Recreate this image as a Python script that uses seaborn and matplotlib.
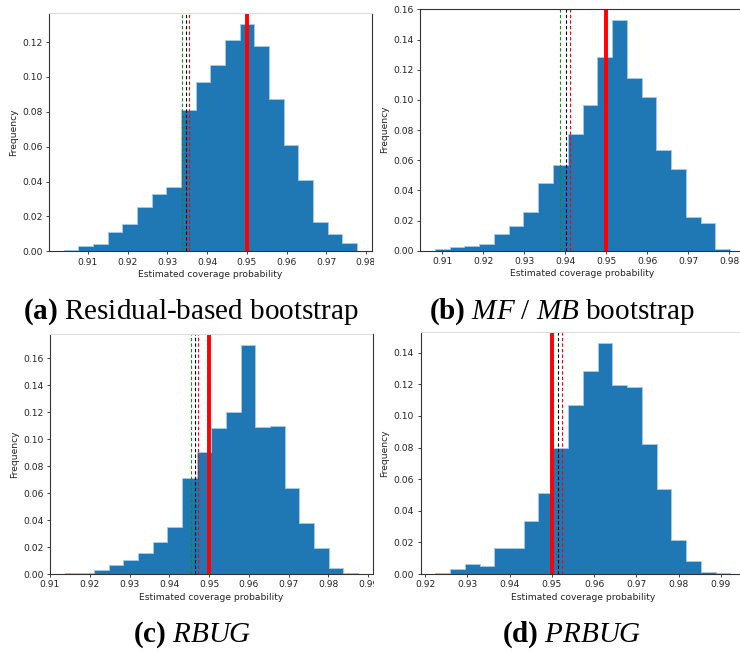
import numpy as np
import pandas as pd
import matplotlib
matplotlib.use("Agg")
import matplotlib.pyplot as plt
import seaborn as sns
from matplotlib.transforms import Bbox, TransformedBbox

sns.set_style("ticks")
plt.rcParams["font.family"] = ["DejaVu Sans"]
plt.rcParams["mathtext.fontset"] = "custom"
plt.rcParams["mathtext.rm"] = "Liberation Serif"
plt.rcParams["mathtext.it"] = "Liberation Serif:italic"
plt.rcParams["mathtext.bf"] = "Liberation Serif:bold"

# ---------------- data ----------------
nominal = 0.95

a_range = (0.9039, 0.9777)
a_freq = [0.0008, 0.0030, 0.0040, 0.0110, 0.0157, 0.0256, 0.0330, 0.0370, 0.0810, 0.0971,
          0.1070, 0.1210, 0.1302, 0.1176, 0.0876, 0.0611, 0.0408, 0.0170, 0.0097, 0.0050]
a_lines = [0.9336, 0.9346, 0.9355]          # green, black, red dashed
a_xticks = [0.91, 0.92, 0.93, 0.94, 0.95, 0.96, 0.97, 0.98]
a_yticks = [0.00, 0.02, 0.04, 0.06, 0.08, 0.10, 0.12]

b_range = (0.9082, 0.9802)
b_freq = [0.0013, 0.0022, 0.0033, 0.0046, 0.0113, 0.0161, 0.0254, 0.0449, 0.0566, 0.0773,
          0.0966, 0.1286, 0.1530, 0.1147, 0.1017, 0.0665, 0.0539, 0.0221, 0.0181, 0.0013]
b_lines = [0.9388, 0.9401, 0.9411]
b_xticks = [0.91, 0.92, 0.93, 0.94, 0.95, 0.96, 0.97, 0.98]
b_yticks = [0.00, 0.02, 0.04, 0.06, 0.08, 0.10, 0.12, 0.14, 0.16]

c_range = (0.9137, 0.9874)
c_freq = [0.0010, 0.0010, 0.0027, 0.0067, 0.0101, 0.0153, 0.0240, 0.0351, 0.0714, 0.0905,
          0.1080, 0.1200, 0.1696, 0.1093, 0.1100, 0.0640, 0.0381, 0.0193, 0.0042, 0.0010]
c_lines = [0.9454, 0.9464, 0.9473]
c_xticks = [0.91, 0.92, 0.93, 0.94, 0.95, 0.96, 0.97, 0.98, 0.99]
c_yticks = [0.00, 0.02, 0.04, 0.06, 0.08, 0.10, 0.12, 0.14, 0.16]

d_range = (0.9224, 0.9922)
d_freq = [0.0008, 0.0034, 0.0065, 0.0053, 0.0167, 0.0167, 0.0337, 0.0514, 0.0799, 0.1067,
          0.1286, 0.1459, 0.1193, 0.1185, 0.0822, 0.0540, 0.0215, 0.0084, 0.0013, 0.0008]
d_lines = [0.9502, 0.9514, 0.9523]
d_xticks = [0.92, 0.93, 0.94, 0.95, 0.96, 0.97, 0.98, 0.99]
d_yticks = [0.00, 0.02, 0.04, 0.06, 0.08, 0.10, 0.12, 0.14]

captions = [r"$\mathbf{(a)}$ Residual-based bootstrap",
            r"$\mathbf{(b)}$ $\mathit{MF\ /\ MB}$ bootstrap",
            r"$\mathbf{(c)}$ $\mathit{RBUG}$",
            r"$\mathbf{(d)}$ $\mathit{PRBUG}$"]

# ---------------- figure ----------------
W, H = 740, 652
fig = plt.figure(figsize=(W / 100, H / 100), dpi=100)
fig.patch.set_facecolor("white")

BLUE = "#1f77b4"
FS = 6.6


def panel(px, rng, freq, lines, xticks, yticks, clip_x=None, top_col="#dddddd"):
    left, right, top, bottom = px
    ax = fig.add_axes([left / W, 1 - bottom / H, (right - left) / W, (bottom - top) / H])
    edges = [float(e) for e in np.linspace(rng[0], rng[1], len(freq) + 1)]
    centers = [(edges[i] + edges[i + 1]) / 2 for i in range(len(freq))]
    df = pd.DataFrame({"x": centers, "w": freq})
    sns.histplot(data=df, x="x", weights="w", bins=edges, stat="count",
                 element="step", fill=True, color=BLUE, alpha=1,
                 edgecolor="#a8cbe6", linewidth=0.6, ax=ax)
    for v, c in zip(lines, ["#1a8a1a", "black", "red"]):
        ax.axvline(v, color=c, ls="--", lw=0.8, dashes=(3, 2))
    ax.axvline(nominal, color="red", lw=2.8)
    span = rng[1] - rng[0]
    ax.set_xlim(rng[0] - 0.05 * span, rng[1] + 0.05 * span)
    ax.set_ylim(0, 1.05 * max(freq))
    ax.set_xticks(xticks)
    ax.set_yticks(yticks)
    ax.tick_params(labelsize=FS, length=2.5, width=0.6, pad=2, colors="#222222")
    ax.set_xlabel("Estimated coverage probability", fontsize=FS, labelpad=2.5, color="#222222")
    ax.set_ylabel("Frequency", fontsize=FS, labelpad=3, color="#222222")
    for s in ax.spines.values():
        s.set_linewidth(0.8)
        s.set_color("#333333")
    ax.spines["top"].set_color(top_col)
    if clip_x is not None:
        box = TransformedBbox(Bbox.from_extents(0, 0, clip_x / W, 1), fig.transFigure)
        for lab in ax.get_xticklabels():
            lab.set_clip_on(True)
            lab.set_clip_box(box)
    return ax


panel((49, 371.5, 13, 251.3), a_range, a_freq, a_lines, a_xticks, a_yticks, clip_x=374)
panel((420, 745, 8.5, 250.7), b_range, b_freq, b_lines, b_xticks, b_yticks, top_col="#333333")
panel((50, 372.5, 334, 574), c_range, c_freq, c_lines, c_xticks, c_yticks, clip_x=374)
panel((420.5, 745, 331.8, 574), d_range, d_freq, d_lines, d_xticks, d_yticks)

cap_pos = [(191, 319), (562, 319), (192, 642), (571, 642)]
for (cx, cy), txt in zip(cap_pos, captions):
    fig.text(cx / W, 1 - cy / H, txt, ha="center", va="baseline",
             fontsize=21, family="Liberation Serif", color="black")

fig.savefig("out.png", dpi=100, facecolor="white")
